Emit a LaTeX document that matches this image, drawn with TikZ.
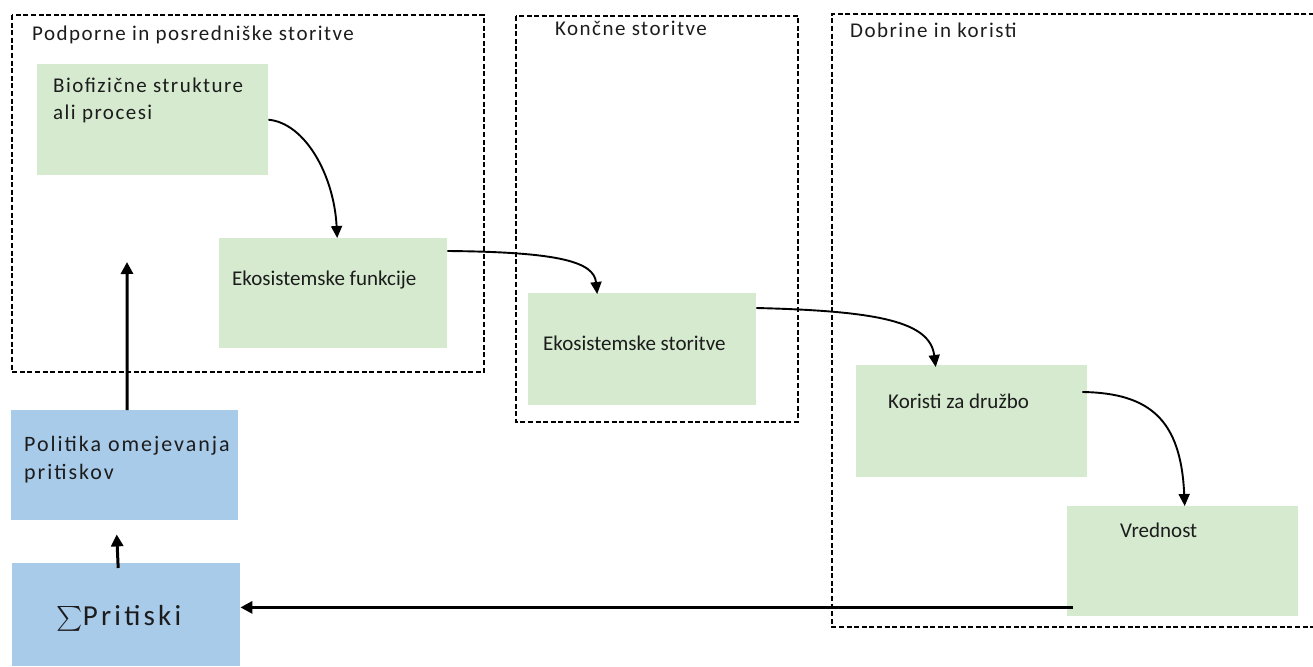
\documentclass[tikz,border=0pt]{standalone}
\usepackage{exscale}
\usepackage{fontspec}
\setmainfont{Carlito}
\newfontfamily\trk[LetterSpace=7]{Carlito}
\newfontfamily\trkw[LetterSpace=9]{Carlito}
\newfontfamily\trkp[LetterSpace=11]{Carlito}
\usetikzlibrary{arrows.meta}
\definecolor{boxgreen}{RGB}{213,234,207}
\definecolor{boxblue}{RGB}{169,203,234}
\definecolor{ink}{RGB}{28,28,28}
\begin{document}
\begin{tikzpicture}[x=1pt,y=-1pt,
  greenbox/.style={fill=boxgreen, draw=none, inner sep=0pt, anchor=north west},
  bluebox/.style={fill=boxblue, draw=none, inner sep=0pt, anchor=north west},
  frame/.style={draw=black, line width=1.5pt, dash pattern=on 5pt off 2.6pt},
  txt/.style={anchor=base west, inner sep=0pt, text=ink, align=left,
    font=\fontsize{21}{26}\selectfont},
  flow/.style={draw=black, line width=1.9pt, -{Triangle[width=11pt,length=12pt]}},
  push/.style={draw=black, line width=3pt, -{Triangle[width=12pt,length=12pt]}}
]
\useasboundingbox (0,0) rectangle (1313,666);

% boxes
\node[greenbox, minimum width=231pt, minimum height=111pt] (bio) at (37,64) {};
\node[greenbox, minimum width=228pt, minimum height=110pt] (ef)  at (219,238) {};
\node[greenbox, minimum width=228pt, minimum height=112pt] (es)  at (528,293) {};
\node[greenbox, minimum width=231pt, minimum height=112pt] (ko)  at (856,365) {};
\node[greenbox, minimum width=231pt, minimum height=110pt] (vr)  at (1067,506) {};
\node[bluebox,  minimum width=227pt, minimum height=110pt] (pol) at (11,410) {};
\node[bluebox,  minimum width=228pt, minimum height=103pt] (pr)  at (12,563) {};

% dashed frames
\draw[frame] (12,15) rectangle (484,372);
\draw[frame] (516,16) rectangle (798,422);
\draw[frame] (1314,14) -- (832,14) -- (832,627) -- (1314,627);

% frame titles
\node[txt, font=\fontsize{21}{26}\trk] (t1) at (32,40.5) {Podporne in posredniške storitve};
\node[txt, font=\fontsize{21}{26}\trk] (t2) at (555,36) {Končne storitve};
\node[txt, font=\fontsize{21}{26}\trk] (t3) at (850,37.5) {Dobrine in koristi};

% box texts (multi-line nodes sit on the baseline of their last line)
\node[txt, font=\fontsize{21}{26}\trk] (biot) at (53,119) {Biofizične strukture\\ali procesi};
\node[txt] (eft) at (232,285) {Ekosistemske funkcije};
\node[txt] (est) at (543,350) {Ekosistemske storitve};
\node[txt] (kot) at (888,408) {Koristi za družbo};
\node[txt] (vrt) at (1120,537) {Vrednost};
\node[txt, font=\fontsize{22}{28}\trkw] (polt) at (24,479) {Politika omejevanja\\pritiskov};
\node[txt, font=\fontsize{29}{34}\selectfont] (prt) at (56,625) {$\textstyle\sum$\kern0.5pt{\trkp Pritiski}};

% connectors
\coordinate (polup) at (127,262);
\draw[flow] (bio.east) .. controls (305,123) and (334,175) .. ([xshift=4pt]ef.north);
\draw[flow] ([yshift=-13pt]ef.north east) .. controls (560,252) and (594,262) .. ([xshift=-45pt,yshift=-1pt]es.north);
\draw[flow] ([yshift=-15pt]es.north east) .. controls (880,311) and (930,322) .. ([xshift=-36pt,yshift=-2pt]ko.north);
\draw[flow] ([xshift=-5pt,yshift=-27pt]ko.north east) .. controls (1150,393) and (1181,420) .. ([xshift=2pt]vr.north);
\coordinate (back) at ([xshift=6pt,yshift=9pt]vr.south west);
\draw[push] (back) -- (back -| pr.east);
\draw[push] ([xshift=2.5pt]pol.north) -- (polup);
\draw[push] ([xshift=-8pt,yshift=-5pt]pr.north) -- ([xshift=-8pt,yshift=-14pt]pol.south);
\end{tikzpicture}
\end{document}
